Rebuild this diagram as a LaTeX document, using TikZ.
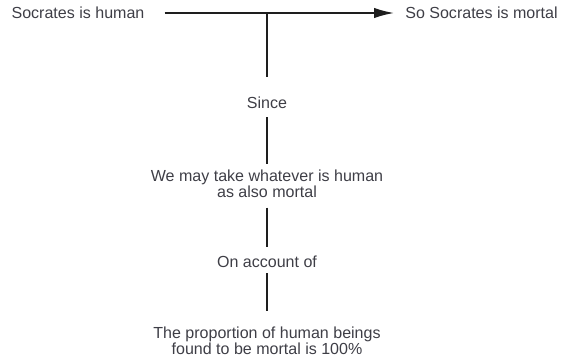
\documentclass[tikz,border=0pt]{standalone}
\usepackage{fontspec}
\setmainfont{Liberation Sans}
\usepackage{tikz}
\usetikzlibrary{arrows.meta,positioning}
\definecolor{txtgray}{RGB}{62,62,70}
\definecolor{linegray}{RGB}{30,30,30}

\begin{document}
\begin{tikzpicture}[x=0.025cm,y=-0.025cm,
  lbl/.style={inner sep=0pt, align=center, text=txtgray, font=\fontsize{11.4}{11}\selectfont},
  ln/.style={draw=linegray, line width=1.2pt}]
\useasboundingbox (0,0) rectangle (564,361);
\node[lbl] (hum) at (78,13) {Socrates is human};
\node[lbl] (mort) at (481.5,13) {So Socrates is mortal};
\coordinate (j) at (267,13);
\node[lbl] (since) at (267,103) {Since};
\node[lbl] (take) at (267,184) {We may take whatever is human\\as also mortal};
\node[lbl] (acct) at (267,262) {On account of};
\node[lbl] (prop) at (267,341) {The proportion of human beings\\found to be mortal is 100\%};
\draw[ln, -{Latex[length=5mm,width=2.6mm]}, shorten <=0.5cm, shorten >=0.275cm] (hum) -- (mort);
\draw[ln, shorten >=0.5cm] (j) -- (since);
\draw[ln, shorten <=0.2cm, shorten >=0.15cm] (since) -- (take);
\draw[ln, shorten <=0.24cm, shorten >=0.23cm] (take) -- (acct);
\draw[ln, shorten <=0.125cm, shorten >=0.41cm] (acct) -- (prop);
\end{tikzpicture}
\end{document}
